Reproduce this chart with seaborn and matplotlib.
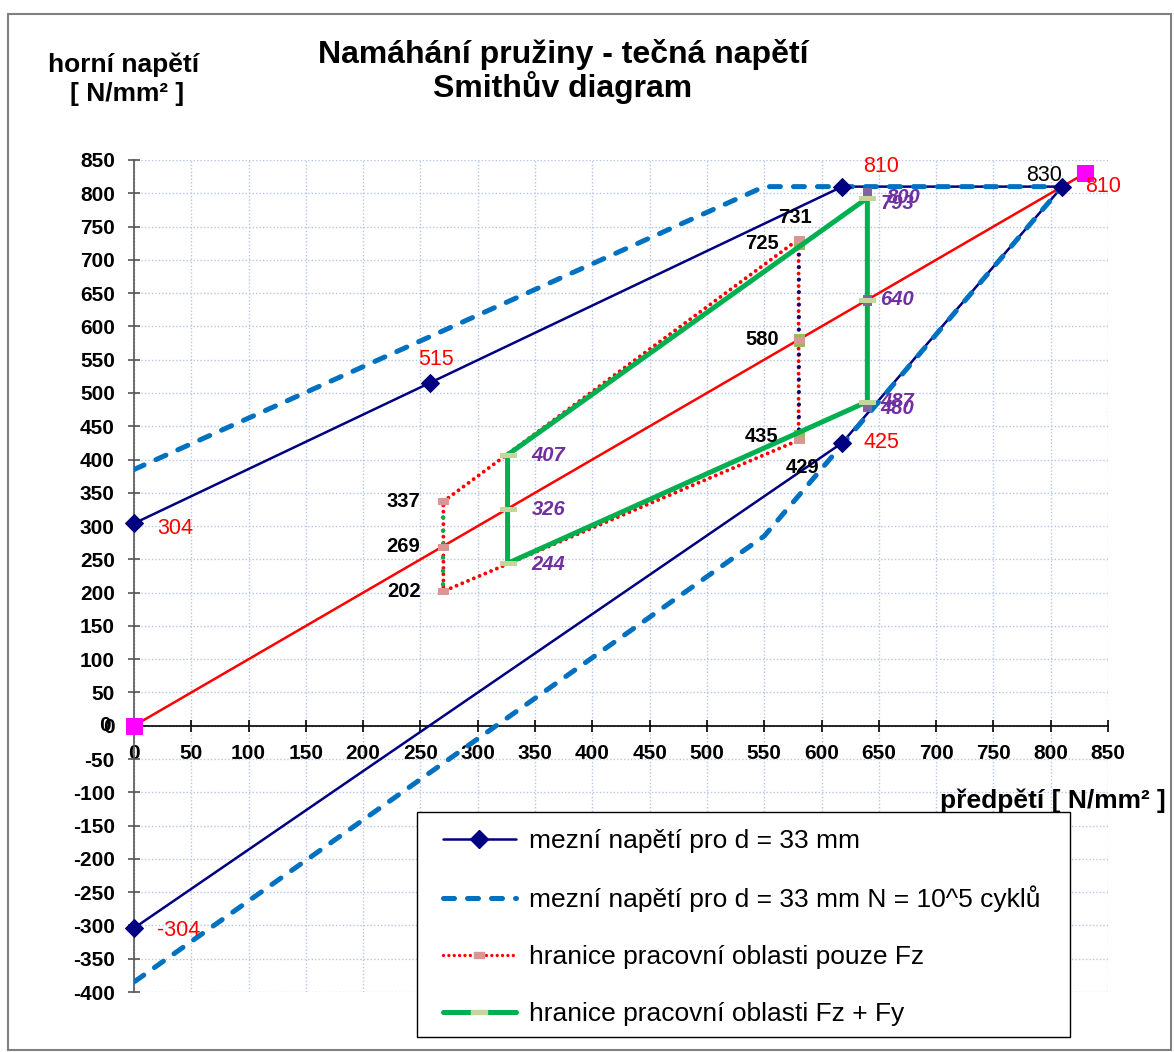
import matplotlib
matplotlib.use("Agg")
import matplotlib.pyplot as plt
import seaborn as sns
from matplotlib.lines import Line2D
from matplotlib.patches import Rectangle
from matplotlib.path import Path

# ---- data -------------------------------------------------------------
# limit stress for wire d = 33 mm (Smith diagram outline)
limit_x = [0, 258, 618, 810, 618, 0]
limit_y = [304, 515, 810, 810, 425, -304]

# limit stress for d = 33 mm, N = 10^5 cycles
cyc_x = [0, 550, 810, 550, 0]
cyc_y = [385, 810, 810, 285, -385]

# mean stress line (upper = preload)
mean_x = [0, 830]
mean_y = [0, 830]

# working area boundary, Fz only
fz_x = [270, 580, 580, 580, 270, 270, 270]
fz_y = [337, 731, 580, 429, 202, 269, 337]

# working area boundary, Fz + Fy
fzy_x = [326, 640, 640, 640, 326, 326, 326]
fzy_y = [407, 793, 640, 487, 244, 326, 407]

# auxiliary vertical boundaries
v580_x = [580, 580, 580]
v580_y = [435, 580, 725]
v270_x = [270, 270]
v270_y = [202, 337]
v640_x = [640, 640, 640]
v640_y = [480, 640, 800]

x_ticks = list(range(0, 851, 50))
y_ticks = list(range(-400, 851, 50))

legend_labels = [
    "mezní napětí pro d = 33 mm",
    "mezní napětí pro d = 33 mm N = 10^5 cyklů",
    "hranice pracovní oblasti pouze Fz",
    "hranice pracovní oblasti Fz + Fy",
]

# ---- colours / styles -------------------------------------------------
NAVY = "#000080"
BLUE = "#0070C0"
RED = "#FF0000"
MAGENTA = "#FF00FF"
GREEN = "#00B050"
LIGHT_OLIVE = "#C3D69B"
OLIVE = "#9BBB59"
ROSE = "#D99694"
VIOLET = "#8064A2"
PURPLE_TXT = "#7030A0"

FONT = ["Liberation Sans", "DejaVu Sans"]

sns.set_theme(style="white")
plt.rcParams["font.family"] = FONT
plt.rcParams["axes.unicode_minus"] = False
plt.rcParams["text.color"] = "black"
plt.rcParams["xtick.color"] = "black"
plt.rcParams["ytick.color"] = "black"
plt.rcParams["xtick.labelcolor"] = "black"
plt.rcParams["ytick.labelcolor"] = "black"


# rectangular markers
def rect_marker(w, h):
    return Path([(-w / 2, -h / 2), (w / 2, -h / 2), (w / 2, h / 2),
                 (-w / 2, h / 2), (-w / 2, -h / 2)],
                [Path.MOVETO, Path.LINETO, Path.LINETO, Path.LINETO,
                 Path.CLOSEPOLY])


BAR = rect_marker(3.2, 1.0)
WIDE = rect_marker(2.0, 1.0)
TALL = rect_marker(0.8, 1.0)

fig = plt.figure(figsize=(11.74, 10.52), dpi=100)
fig.patch.set_facecolor("white")
ax = fig.add_axes([134 / 1174, 1 - 992 / 1052, (1108 - 134) / 1174, (992 - 160) / 1052])
ax.set_facecolor("white")

ax.set_xlim(0, 850)
ax.set_ylim(-400, 850)
ax.set_xticks(x_ticks)
ax.set_yticks(y_ticks)
ax.grid(True, color="#B4C6E7", linestyle=(0, (1, 1.5)), linewidth=1.0, zorder=0)
ax.set_axisbelow(True)

for s in ("top", "right"):
    ax.spines[s].set_visible(False)
ax.spines["left"].set_color("#555555")
ax.spines["left"].set_linewidth(1.2)
ax.spines["bottom"].set_position(("data", 0))
ax.spines["bottom"].set_color("black")
ax.spines["bottom"].set_linewidth(1.2)

ax.tick_params(axis="y", direction="inout", length=8.6, width=1.2, color="#555555",
               pad=9.5, labelsize=15, left=True, labelcolor="black")
ax.tick_params(axis="x", direction="inout", length=8.6, width=1.2, color="black",
               pad=9, labelsize=15, bottom=True, labelcolor="black")
ax.set_xticklabels([str(v) for v in x_ticks], fontweight="bold")
ax.set_yticklabels([str(v) for v in y_ticks], fontweight="bold")

# ---- lines --------------------------------------------------------------
sns.lineplot(x=mean_x, y=mean_y, sort=False, estimator=None, ax=ax, color=RED,
             linewidth=1.8, zorder=2, legend=False)
sns.lineplot(x=mean_x, y=mean_y, sort=False, estimator=None, ax=ax, color=MAGENTA,
             linestyle="none", marker="s", markersize=11.5, markeredgecolor=MAGENTA,
             zorder=8, clip_on=False, legend=False)

sns.lineplot(x=limit_x, y=limit_y, sort=False, estimator=None, ax=ax, color=NAVY,
             linewidth=1.8, zorder=3, legend=False)
sns.lineplot(x=cyc_x, y=cyc_y, sort=False, estimator=None, ax=ax, color=BLUE,
             linewidth=3.6, linestyle=(0, (2.2, 2.6)), dash_capstyle="round",
             zorder=4, legend=False)
sns.lineplot(x=limit_x, y=limit_y, sort=False, estimator=None, ax=ax, color=NAVY,
             linestyle="none", marker="D", markersize=9, markeredgecolor=NAVY,
             zorder=5, clip_on=False, legend=False)

# Fz only
sns.lineplot(x=fz_x, y=fz_y, sort=False, estimator=None, ax=ax, color=RED,
             linewidth=2.8, linestyle=(0, (0.01, 1.6)), dash_capstyle="round",
             zorder=5, legend=False)
sns.lineplot(x=v580_x, y=v580_y, sort=False, estimator=None, ax=ax, color=NAVY,
             linewidth=2.8, linestyle=(1.5, (0.01, 3.2)), dash_capstyle="round",
             zorder=5, legend=False)
sns.lineplot(x=v270_x, y=v270_y, sort=False, estimator=None, ax=ax, color=GREEN,
             linewidth=3.2, linestyle=(1.5, (0.01, 3.0)), dash_capstyle="round",
             zorder=5, legend=False)
sns.lineplot(x=v580_x, y=v580_y, sort=False, estimator=None, ax=ax, color=OLIVE,
             linestyle="none", marker=TALL, markersize=9, markeredgecolor=OLIVE,
             zorder=6, legend=False)
sns.lineplot(x=fz_x, y=fz_y, sort=False, estimator=None, ax=ax, color=ROSE,
             linestyle="none", marker=WIDE, markersize=7.5, markeredgecolor=ROSE,
             zorder=6, legend=False)

# Fz + Fy
sns.lineplot(x=fzy_x, y=fzy_y, sort=False, estimator=None, ax=ax, color=GREEN,
             linewidth=3.6, zorder=6, legend=False)
sns.lineplot(x=v640_x, y=v640_y, sort=False, estimator=None, ax=ax, color=VIOLET,
             linestyle="none", marker=TALL, markersize=7.5, markeredgecolor=VIOLET,
             zorder=7, legend=False)
sns.lineplot(x=fzy_x, y=fzy_y, sort=False, estimator=None, ax=ax, color=LIGHT_OLIVE,
             linestyle="none", marker=BAR, markersize=11.5, markeredgecolor=LIGHT_OLIVE,
             zorder=7, legend=False)

# ---- value labels ------------------------------------------------------
PX = 0.72  # points per pixel at 100 dpi


def label(x, y, dx, dy, color, ha="center", weight="normal", style="normal", size=15):
    ax.annotate(str(y), (x, y), xytext=(dx * PX, dy * PX), textcoords="offset points",
                ha=ha, va="center", color=color, fontsize=size, fontweight=weight,
                fontstyle=style, zorder=10, annotation_clip=False)


# limit-stress values (red)
label(limit_x[0], limit_y[0], 23, -5, RED, ha="left", size=15.5)
label(limit_x[1], limit_y[1], 6, 23, RED, size=15.5)
label(limit_x[2], limit_y[2], 21, 20, RED, ha="left", size=15.5)
label(limit_x[3], limit_y[3], 23, 0, RED, ha="left", size=15.5)
label(limit_x[4], limit_y[4], 21, 0, RED, ha="left", size=15.5)
label(limit_x[5], limit_y[5], 23, -2, RED, ha="left", size=15.5)

# mean line end values
ax.annotate(str(mean_y[1]), (mean_x[1], mean_y[1]), xytext=(-23 * PX, -2 * PX),
            textcoords="offset points", ha="right", va="center", color="black",
            fontsize=15.5, zorder=10, annotation_clip=False)
ax.annotate(str(mean_y[0]), (mean_x[0], mean_y[0]), xytext=(-23 * PX, 0),
            textcoords="offset points", ha="right", va="center", color="black",
            fontsize=15, fontweight="bold", zorder=1, annotation_clip=False)

# Fz only values (black bold)
for yv in (337, 269, 202):
    label(270, yv, -23, 0, "black", ha="right", weight="bold", size=14.5)
label(580, 731, -4, 22, "black", weight="bold", size=14.5)
label(580, 429, 4, -27, "black", weight="bold", size=14.5)
for yv in v580_y:
    label(580, yv, -20, 0, "black", ha="right", weight="bold", size=14.5)

# Fz + Fy values (purple bold italic)
for yv in (407, 326, 244):
    label(326, yv, 24, -1, PURPLE_TXT, ha="left", weight="bold", style="italic", size=14.5)
for yv, dy in ((793, -6), (640, 0), (487, 0)):
    label(640, yv, 13, dy, PURPLE_TXT, ha="left", weight="bold", style="italic", size=14.5)
for yv, dx, dy in ((800, 19, -4), (480, 13, -2)):
    label(640, yv, dx, dy, PURPLE_TXT, ha="left", weight="bold", style="italic", size=14.5)

# ---- titles --------------------------------------------------------------
fig.text(563 / 1174, 1 - 63 / 1052, "Namáhání pružiny - tečná napětí", ha="center",
         va="baseline", fontsize=23, fontweight="bold", color="black")
fig.text(563 / 1174, 1 - 97 / 1052, "Smithův diagram", ha="center", va="baseline",
         fontsize=23, fontweight="bold", color="black")
fig.text(124 / 1174, 1 - 72 / 1052, "horní napětí", ha="center", va="baseline",
         fontsize=19, fontweight="bold", color="black")
fig.text(127 / 1174, 1 - 101 / 1052, "[ N/mm² ]", ha="center", va="baseline",
         fontsize=19, fontweight="bold", color="black")
fig.text(1166 / 1174, 1 - 808 / 1052, "předpětí [ N/mm² ]", ha="right", va="baseline",
         fontsize=19, fontweight="bold", color="black")

# ---- legend --------------------------------------------------------------
handles = [
    Line2D([], [], color=NAVY, linewidth=1.8, marker="D", markersize=9,
           markeredgecolor=NAVY),
    Line2D([], [], color=BLUE, linewidth=3.6, linestyle=(0, (2.2, 2.6)),
           dash_capstyle="round"),
    Line2D([], [], color=RED, linewidth=2.4, linestyle=(0, (0.01, 1.6)),
           dash_capstyle="round", marker=WIDE, markersize=7.5, markerfacecolor=ROSE,
           markeredgecolor=ROSE),
    Line2D([], [], color=GREEN, linewidth=3.6, marker=BAR, markersize=11.5,
           markerfacecolor=LIGHT_OLIVE, markeredgecolor=LIGHT_OLIVE),
]
fig.patches.append(Rectangle((417 / 1174, 1 - 1037 / 1052), (1070 - 417) / 1174,
                             (1037 - 812) / 1052, transform=fig.transFigure,
                             facecolor="white", edgecolor="black", linewidth=1.0,
                             zorder=20))
leg = fig.legend(handles, legend_labels, loc="upper left",
                 bbox_to_anchor=(443 / 1174, 1 - 829 / 1052), frameon=False,
                 fontsize=19, handlelength=2.75, handletextpad=0.5,
                 labelspacing=1.24, borderaxespad=0, borderpad=0)
for t in leg.get_texts():
    t.set_color("black")
leg.set_zorder(21)

# outer frame of the chart
fig.patches.append(Rectangle((8 / 1174, 2 / 1052), (1171 - 8) / 1174, (1050 - 14) / 1052,
                             transform=fig.transFigure, facecolor="none",
                             edgecolor="#808080", linewidth=1.5, zorder=30))

fig.savefig("out.png", dpi=100, facecolor="white")
